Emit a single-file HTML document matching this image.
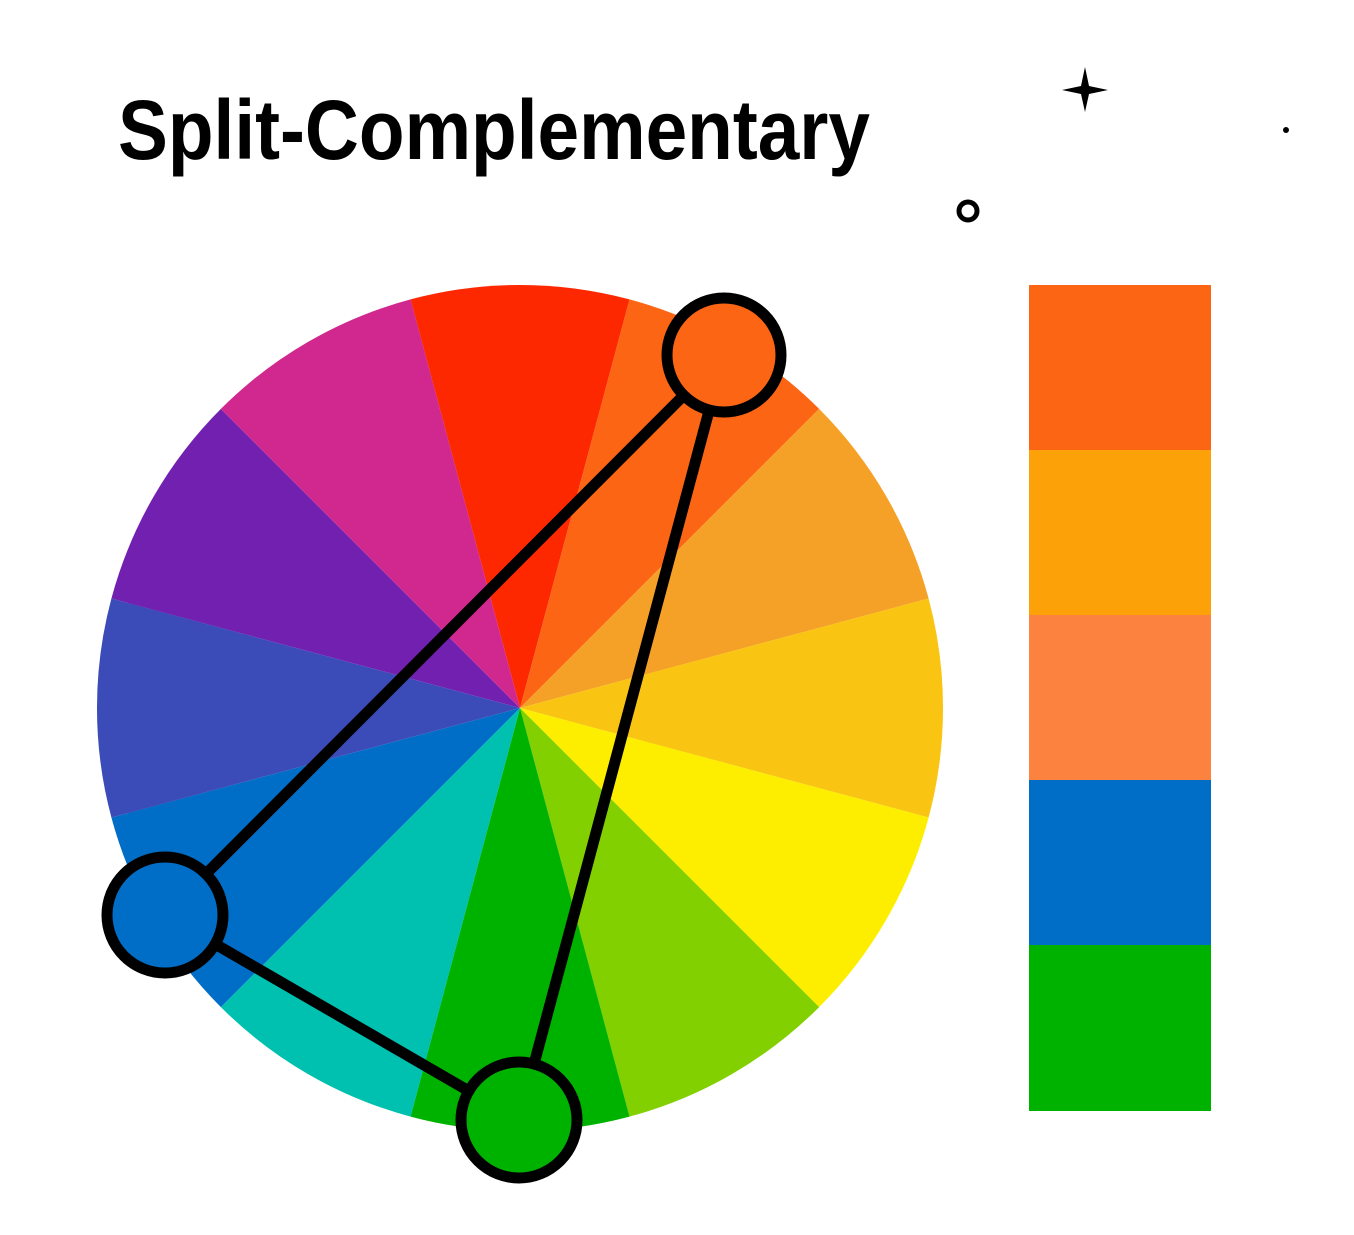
<!DOCTYPE html>
<html><head><style>html,body{margin:0;padding:0;background:#fff;}svg{display:block}</style></head>
<body>
<svg width="1354" height="1235" viewBox="0 0 1354 1235" xmlns="http://www.w3.org/2000/svg">
<rect width="1354" height="1235" fill="#fff"/>
<text x="118" y="159" font-family="Liberation Sans, sans-serif" font-weight="bold" font-size="84" textLength="752" lengthAdjust="spacingAndGlyphs">Split-Complementary</text>
<path d="M1085 67 L1089 86 L1108 90 L1089 94 L1085 112 L1081 94 L1062 90 L1081 86 Z" fill="#000"/>
<circle cx="1286" cy="130" r="3" fill="#000"/>
<circle cx="968" cy="211" r="9" fill="none" stroke="#000" stroke-width="5"/>
<g transform="translate(520,708)">
<defs><path id="w" d="M0 0 L-109.5 -408.6 A423 423 0 0 1 109.5 -408.6 Z"/></defs>
<use href="#w" fill="#FE2800"/>
<use href="#w" fill="#FB6514" transform="rotate(30)"/>
<use href="#w" fill="#F5A026" transform="rotate(60)"/>
<use href="#w" fill="#F9C512" transform="rotate(90)"/>
<use href="#w" fill="#FDEE00" transform="rotate(120)"/>
<use href="#w" fill="#82D000" transform="rotate(150)"/>
<use href="#w" fill="#00B200" transform="rotate(180)"/>
<use href="#w" fill="#00C0B0" transform="rotate(210)"/>
<use href="#w" fill="#006EC6" transform="rotate(240)"/>
<use href="#w" fill="#3B4BB8" transform="rotate(270)"/>
<use href="#w" fill="#7220B0" transform="rotate(300)"/>
<use href="#w" fill="#D0288E" transform="rotate(330)"/>
</g>
<g stroke="#000" stroke-width="11" fill="none">
<line x1="724" y1="355" x2="165" y2="915"/>
<line x1="724" y1="355" x2="519" y2="1120"/>
<line x1="165" y1="915" x2="519" y2="1120"/>
</g>
<circle cx="724" cy="355" r="57" fill="#FB6514" stroke="#000" stroke-width="11"/>
<circle cx="165" cy="915" r="58" fill="#006EC6" stroke="#000" stroke-width="11"/>
<circle cx="519" cy="1120" r="58" fill="#00B200" stroke="#000" stroke-width="11"/>
<rect x="1029" y="285" width="182" height="166" fill="#FB6514"/>
<rect x="1029" y="450" width="182" height="166" fill="#FCA108"/>
<rect x="1029" y="615" width="182" height="166" fill="#FC8240"/>
<rect x="1029" y="780" width="182" height="166" fill="#006EC6"/>
<rect x="1029" y="945" width="182" height="166" fill="#00B200"/>
</svg>
</body></html>
